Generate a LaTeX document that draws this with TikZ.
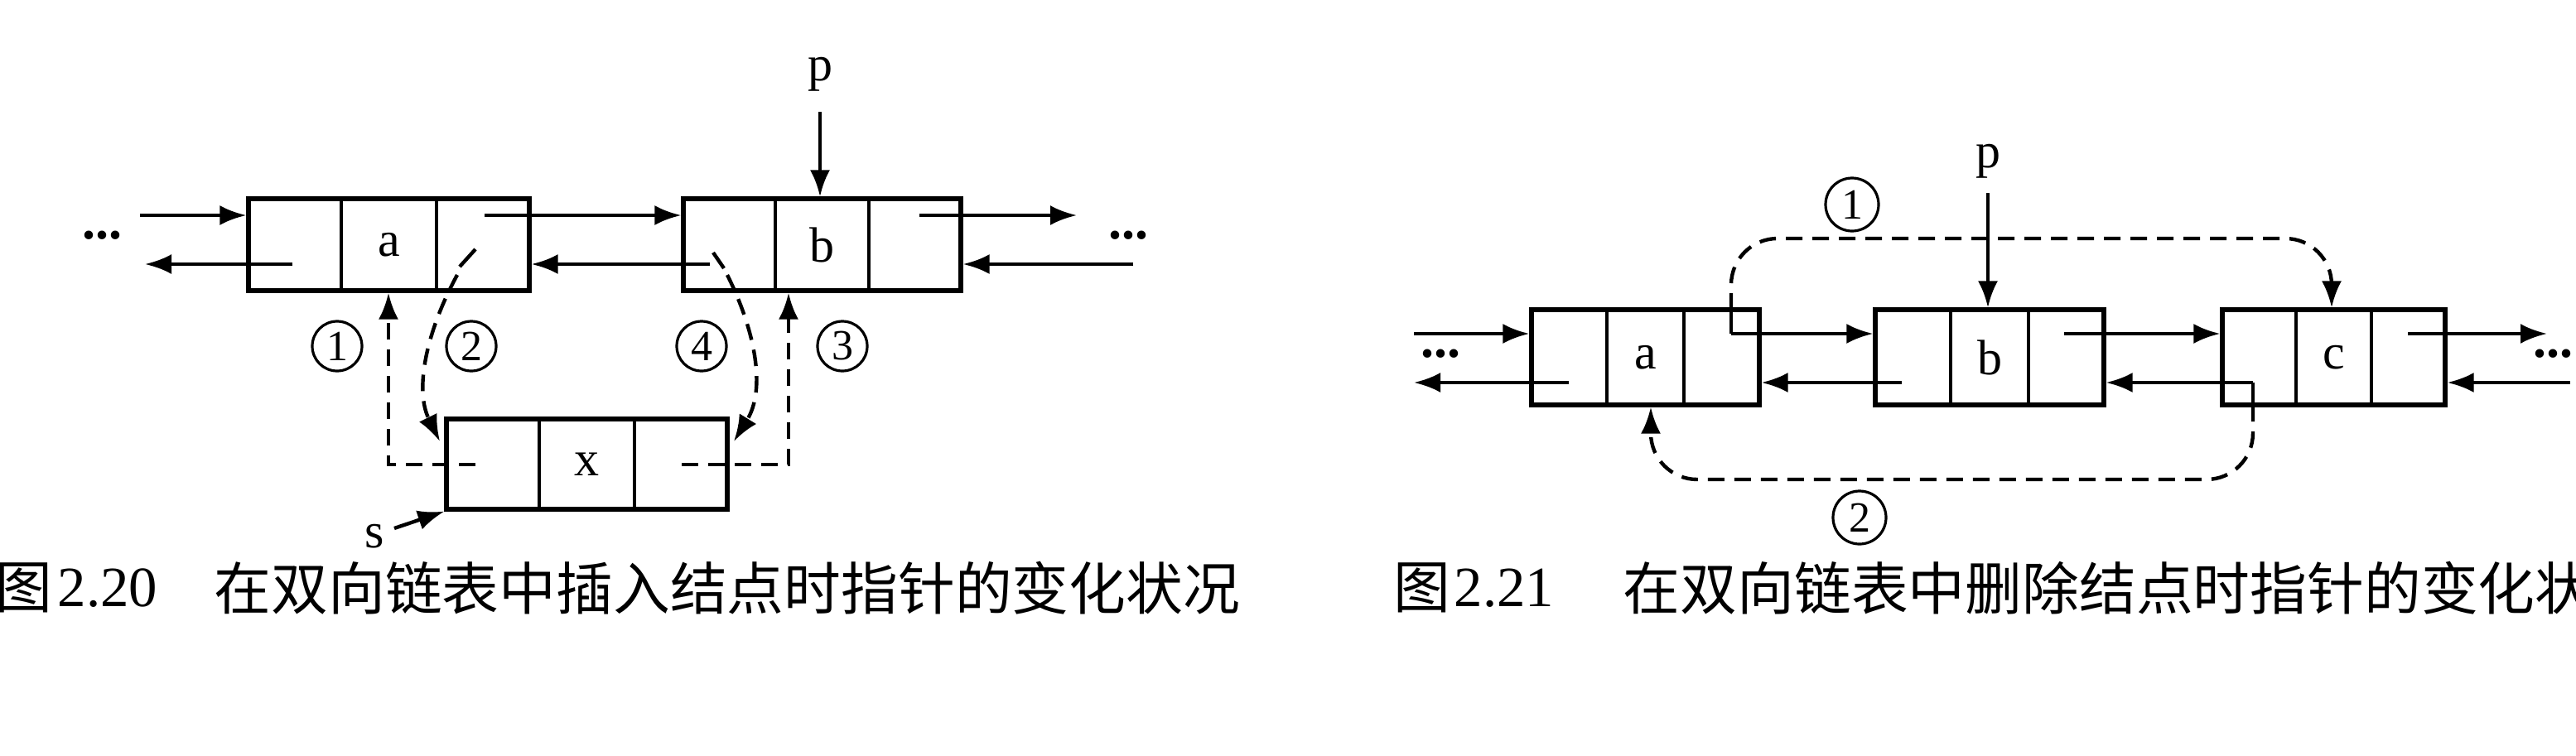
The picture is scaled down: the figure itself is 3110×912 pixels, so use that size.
\documentclass[tikz,border=0pt]{standalone}
\usepackage{fontspec}
\setmainfont{Liberation Serif}
\newfontfamily\cjk{Noto Sans CJK SC}
\usetikzlibrary{arrows.meta,fit,calc}
\tikzset{
  box/.style={draw,line width=1.3pt,inner sep=0pt},
  ln/.style={line width=1.1pt},
  arr/.style={line width=1.1pt,-{Latex[length=8pt,width=6pt]}},
  dsh/.style={line width=1.1pt,dash pattern=on 5pt off 3pt},
  darr/.style={dsh,-{Latex[length=8pt,width=6pt]}},
  circ/.style={draw,circle,line width=0.8pt,minimum size=15pt,inner sep=0pt,font=\fontsize{13}{13}\selectfont},
  lab/.style={font=\fontsize{15}{16}\selectfont,inner sep=0pt},
  dots/.style={font=\fontsize{16}{16}\selectfont\bfseries,inner sep=0pt},
  captext/.style={anchor=west,inner sep=0pt,font=\fontsize{17.2}{18}\selectfont},
}
\begin{document}
\begin{tikzpicture}[x=0.25pt,y=-0.25pt]
\useasboundingbox[fill=white] (0,0) rectangle (3110,912);
% ---------- left figure ----------
\node[box,fit={(300,240) (639,351)}] (A) {};
\node[box,fit={(825,240) (1160,351)}] (B) {};
\node[box,fit={(539,506) (878,615)}] (X) {};
\node[lab] (Al) at (A.center) {a};
\node[lab] (Bl) at (B.center) {b};
\node[lab] (Xl) at (X.center) {x};
\foreach \n in {A,B,X}{
  \draw[ln] ($(\n.north west)!1/3!(\n.north east)$) -- ($(\n.south west)!1/3!(\n.south east)$);
  \draw[ln] ($(\n.north west)!2/3!(\n.north east)$) -- ($(\n.south west)!2/3!(\n.south east)$);
}
\node[dots] (dl) at (123,284) {...};
\node[dots] (dr) at (1362,284) {...};
\coordinate (l1) at (169,260); \coordinate (l2) at (353,319);
\draw[arr] (l1) -- (A.west|-l1);
\draw[arr] (l2) -- (175,319);
\coordinate (ab) at (585,260); \coordinate (ba) at (857,319);
\draw[arr] (ab) -- (B.west|-ab);
\draw[arr] (ba) -- (A.east|-ba);
\coordinate (br) at (1110,260); \coordinate (rb) at (1368,319);
\draw[arr] (br) -- (1300,260);
\draw[arr] (rb) -- (B.east|-rb);
\node[lab] (p1) at (990,90) {p};
\draw[arr] (990,135) -- (B.north-|990,0);
% dashed 1 and 3
\draw[darr] (574,561) -- (469,561) -- (A.south-|469,0);
\draw[darr] (823,561) -- (952,561) -- (B.south-|952,0);
% dashed 2 and 4
\draw[ln] (574,301) -- (555,322);
\draw[darr] (552,332) .. controls (515,400) and (500,470) .. (531,533);
\draw[ln] (861,305) -- (874,324);
\draw[darr] (878,332) .. controls (912,400) and (925,470) .. (886,533);
\node[circ] (c1) at (407,418) {1};
\node[circ] (c2) at (569,418) {2};
\node[circ] (c4) at (847,418) {4};
\node[circ] (c3) at (1017,418) {3};
\node[lab] (s) at (452,648) {s};
\draw[arr] (476,638) -- (X.south west);
% ---------- right figure ----------
\node[box,fit={(1849,374) (2124,489)}] (RA) {};
\node[box,fit={(2264,374) (2540,489)}] (RB) {};
\node[box,fit={(2683,374) (2952,489)}] (RC) {};
\node[lab] (RAl) at (RA.center) {a};
\node[lab] (RBl) at (RB.center) {b};
\node[lab] (RCl) at (RC.center) {c};
\foreach \n in {RA,RB,RC}{
  \draw[ln] ($(\n.north west)!1/3!(\n.north east)$) -- ($(\n.south west)!1/3!(\n.south east)$);
  \draw[ln] ($(\n.north west)!2/3!(\n.north east)$) -- ($(\n.south west)!2/3!(\n.south east)$);
}
\node[dots] (rdl) at (1739,427) {...};
\node[dots] (rdr) at (3082,427) {...};
\draw[arr] (1707,403) -- (RA.west|-0,403);
\draw[arr] (1894,462) -- (1707,462);
\draw[arr] (2090,403) -- (RB.west|-0,403);
\draw[arr] (2296,462) -- (RA.east|-0,462);
\draw[arr] (2492,403) -- (RC.west|-0,403);
\draw[arr] (2720,462) -- (RB.east|-0,462);
\draw[arr] (2907,403) -- (3075,403);
\draw[arr] (3103,462) -- (RC.east|-0,462);
\node[lab] (rp) at (2400,195) {p};
\draw[arr] (2400,233) -- (RB.north-|2400,0);
\draw[ln] (2090,403) -- (2090,374);
\draw[darr,rounded corners=14pt] (2090,374) -- (2090,288) -- (2815,288) -- (RC.north-|2815,0);
\draw[ln] (2720,462) -- (2720,489);
\draw[darr,rounded corners=14pt] (2720,489) -- (2720,579) -- (1993,579) -- (RA.south-|1993,0);
\node[circ,minimum size=16pt] (rc1) at (2236,247) {1};
\node[circ,minimum size=16pt] (rc2) at (2245,625) {2};
% ---------- captions ----------
\node[captext] (f1) at (-6,710) {\cjk 图};
\node[captext] (n1) at (69,710) {2.20};
\node[captext] (t1) at (258,710) {\cjk 在双向链表中插入结点时指针的变化状况};
\node[captext] (f2) at (1682,710) {\cjk 图};
\node[captext] (n2) at (1755,710) {2.21};
\node[captext] (t2) at (1959,710) {\cjk 在双向链表中删除结点时指针的变化状};
\end{tikzpicture}
\end{document}
